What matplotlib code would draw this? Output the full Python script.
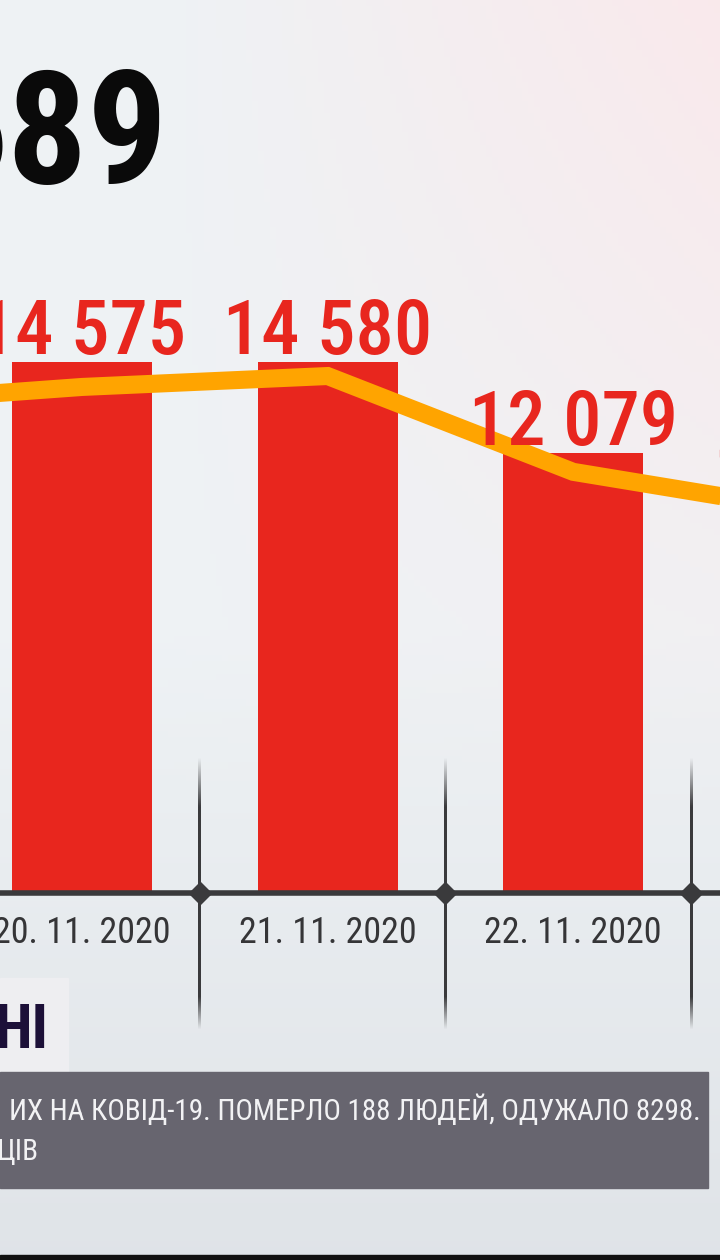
import matplotlib
matplotlib.use('Agg')
import matplotlib.pyplot as plt
from matplotlib import font_manager
import numpy as np

# data
days = ['20. 11. 2020', '21. 11. 2020', '22. 11. 2020', '23. 11. 2020']
cases = [14575, 14580, 12079, 10700]
# orange trend line, one point per day, starting 19.11 (off screen on the left)
trend_days = [-1, 0, 1, 2, 3]
trend = [13400, 13890, 14190, 11560, 10450]
headline = '689'
ticker_line1 = 'ИХ НА КОВІД-19. ПОМЕРЛО 188 ЛЮДЕЙ, ОДУЖАЛО 8298.'
ticker_line2 = 'ЦІВ'
tag_text = 'НІ'

W, H = 720, 1260
installed = {f.name for f in font_manager.fontManager.ttflist}
narrow = 'DejaVu Sans'
for name in ['Liberation Sans Narrow', 'Roboto Condensed', 'Open Sans Condensed', 'Roboto']:
    if name in installed:
        narrow = name
        break

BAR_RED = '#e8261e'
ORANGE = '#ffa400'
AXIS_GRAY = '#3a3a3c'

fig = plt.figure(figsize=(W / 100, H / 100), dpi=100)

# background: soft light gradient, slightly pink on the upper right
bg = fig.add_axes([0, 0, 1, 1], zorder=-10)
yy, xx = np.mgrid[0:1:200j, 0:1:120j]
base = np.array([0.935, 0.95, 0.96])
pink = np.array([0.98, 0.915, 0.925])
dark = np.array([0.85, 0.865, 0.885])
w_pink = np.clip(xx * 1.3 - 0.3, 0, 1) * np.clip(1 - yy * 1.5, 0, 1)
w_dark = np.clip((yy - 0.5) * 1.8, 0, 1) * 0.75
img = base[None, None, :] * (1 - w_pink[..., None] - w_dark[..., None]) \
    + pink[None, None, :] * w_pink[..., None] + dark[None, None, :] * w_dark[..., None]
bg.imshow(np.clip(img, 0, 1), extent=[0, 1, 0, 1], aspect='auto', origin='upper')
bg.set_xlim(0, 1)
bg.set_ylim(0, 1)
bg.axis('off')

# main chart axes: zero line at y=893 px, one day = 245.6 px
zero_px = 893
px_per_day = 245.6
px_per_unit = (893 - 362) / 14575
xlim = (-82 / px_per_day, (W - 82) / px_per_day)
ylim = (0, zero_px / px_per_unit)
ax = fig.add_axes([0, 1 - zero_px / H, 1, zero_px / H])
ax.set_facecolor('none')

x = np.arange(len(days))
ax.bar(x, cases, width=0.57, color=BAR_RED, zorder=2)
ax.plot(trend_days, trend, color=ORANGE, lw=13, solid_joinstyle='miter',
        solid_capstyle='butt', zorder=3)

for xi, v in zip(x, cases):
    ax.annotate(f'{v:,}'.replace(',', ' '), (xi, v), xytext=(0, 5.5),
                textcoords='offset points', ha='center', va='baseline',
                fontsize=55, fontweight='medium', color=BAR_RED, family=narrow,
                zorder=4, annotation_clip=False)
    ax.annotate(days[xi], (xi, 0), xytext=(0, -29), textcoords='offset points',
                ha='center', va='center', fontsize=26, color='#353537',
                family=narrow, annotation_clip=False)

# axis line, separators and diamonds between days
ax.axhline(0, color=AXIS_GRAY, lw=4, zorder=5, clip_on=False)
sep = np.arange(-1, len(days)) + 0.5 - 5 / px_per_day
top_v = (zero_px - 757) / px_per_unit
bot_v = -(1030 - zero_px) / px_per_unit
t = np.linspace(0, 1, 200)
fade = np.clip(np.minimum(t / 0.18, (1 - t) / 0.12), 0, 1)
col = np.zeros((200, 1, 4))
col[..., :3] = np.array([0x3a, 0x3a, 0x3c]) / 255
col[:, 0, 3] = fade
hw = 1.4 / px_per_day
for s in sep:
    ax.imshow(col, extent=[s - hw, s + hw, bot_v, top_v], aspect='auto',
              origin='upper', zorder=1, clip_on=False, interpolation='bilinear')
ax.plot(sep, np.zeros_like(sep), 'D', ms=11, color=AXIS_GRAY, zorder=6, clip_on=False)
ax.set_xlim(*xlim)
ax.set_ylim(*ylim)
ax.axis('off')

# headline number, cut at the left edge
fig.text(168 / W, 1 - 183 / H, headline, ha='right', va='baseline',
         fontsize=114, fontweight='bold', color='#0a0a0a', family=narrow)

# lower third: tag box and ticker bar
fig.patches.append(plt.Rectangle((0, 1 - 1072 / H), 68 / W, 94 / H,
                                 transform=fig.transFigure, color='#eeeef1', zorder=1))
fig.text(49 / W, 1 - 1048 / H, tag_text, ha='right', va='baseline', fontsize=44,
         fontweight='bold', color='#1c1038', family=narrow, zorder=2)
fig.patches.append(plt.Rectangle((0, 1 - 1188 / H), 708 / W, 116 / H,
                                 transform=fig.transFigure, color='#67656f', zorder=1))
fig.text(9 / W, 1 - 1120 / H, ticker_line1, ha='left', va='baseline', fontsize=21,
         color='#f2f2f4', family=narrow, zorder=2)
fig.text(-3 / W, 1 - 1160 / H, ticker_line2, ha='left', va='baseline', fontsize=21,
         color='#f2f2f4', family=narrow, zorder=2)
fig.patches.append(plt.Rectangle((0, 0), 1, 5 / H, transform=fig.transFigure,
                                 color='#111111', zorder=1))

fig.savefig('out.png', dpi=100)
